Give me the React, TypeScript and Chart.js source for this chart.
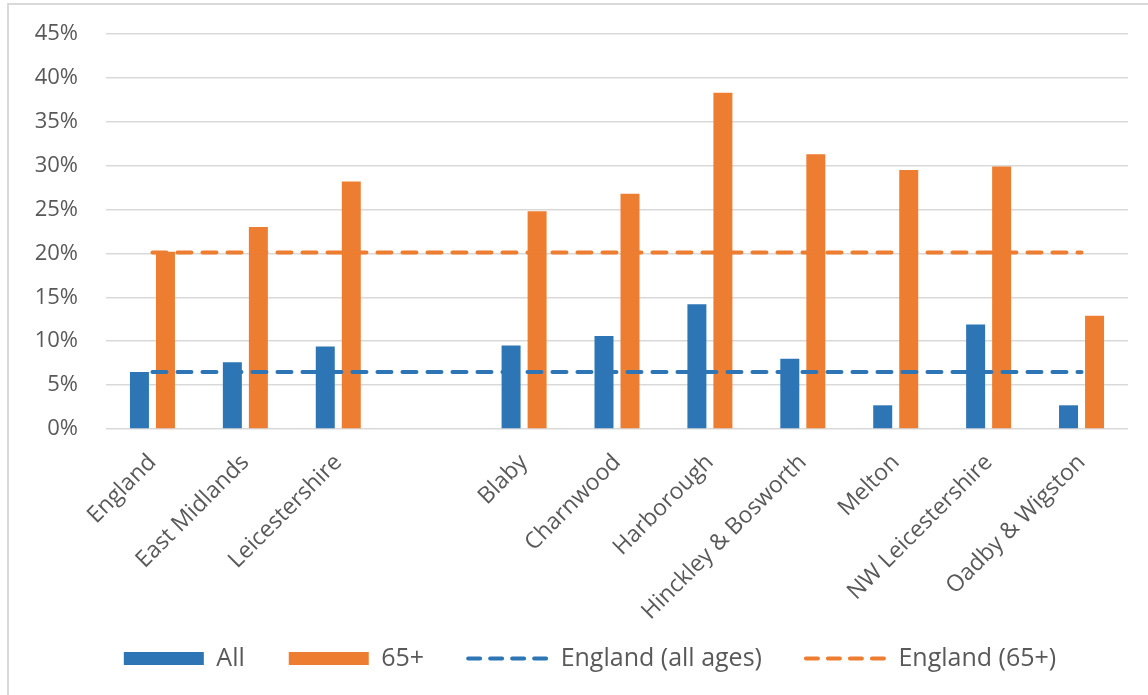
import React, { useEffect, useRef } from "react";
import { Chart, registerables } from "chart.js";

Chart.register(...registerables);

const CATEGORIES = [
  "England",
  "East Midlands",
  "Leicestershire",
  "",
  "Blaby",
  "Charnwood",
  "Harborough",
  "Hinckley & Bosworth",
  "Melton",
  "NW Leicestershire",
  "Oadby & Wigston",
];
const ALL_AGES = [6.5, 7.6, 9.4, null, 9.5, 10.6, 14.2, 8.0, 2.7, 11.9, 2.7];
const AGE_65_PLUS = [20.2, 23.0, 28.2, null, 24.8, 26.8, 38.3, 31.3, 29.5, 29.9, 12.9];
const ENGLAND_ALL_LINE = [6.5, 6.5, 6.5, 6.5, 6.5, 6.5, 6.5, 6.5, 6.5, 6.5, 6.5];
const ENGLAND_65_LINE = [20.1, 20.1, 20.1, 20.1, 20.1, 20.1, 20.1, 20.1, 20.1, 20.1, 20.1];
const Y_TICKS = [0, 5, 10, 15, 20, 25, 30, 35, 40, 45];

const BLUE = "#2E75B6";
const ORANGE = "#ED7D31";
const TEXT = "#595959";
const GRID = "#d9d9d9";
const FONT = "'Open Sans', sans-serif";

const LEGEND_PAD = 44;
const LEGEND_H = 80;
const LEGEND_FONT = 25;
const LEGEND_TOP = 658.5 - LEGEND_PAD - LEGEND_FONT / 2;
const PAD_LEFT = 52;
const AREA_LEFT = 106;
const AREA_BOTTOM = 429;
const LINE_DASH = [14, 11];

const layoutTweaksPlugin = {
  id: "layoutTweaks",
  beforeLayout(chart: any) {
    const lg = chart.legend;
    if (lg && !lg._fitPatched) {
      const orig = lg.fit.bind(lg);
      lg.fit = function () {
        orig();
        this.height = LEGEND_H;
      };
      lg._fitPatched = true;
    }
  },
  afterLayout(chart: any) {
    // let tick labels extend beyond their axis boxes (no clipping)
    Object.values(chart.scales).forEach((s: any) => {
      s._computeLabelArea = () => undefined;
    });
  },
};

export default function App() {
  const ref = useRef<HTMLCanvasElement | null>(null);

  useEffect(() => {
    if (!ref.current) return;
    Chart.defaults.font.family = FONT;
    const defaultGen = (Chart.defaults as any).plugins.legend.labels.generateLabels;
    const chart = new Chart(ref.current, {
      type: "bar",
      data: {
        labels: CATEGORIES,
        datasets: [
          {
            type: "bar",
            label: "All",
            data: ALL_AGES as any,
            backgroundColor: BLUE,
            borderWidth: 0,
            categoryPercentage: 0.56,
            barPercentage: 0.73,
            order: 1,
            pointStyle: "rect",
          } as any,
          {
            type: "bar",
            label: "65+",
            data: AGE_65_PLUS as any,
            backgroundColor: ORANGE,
            borderWidth: 0,
            categoryPercentage: 0.56,
            barPercentage: 0.73,
            order: 1,
            pointStyle: "rect",
          } as any,
          {
            type: "line",
            label: "England (all ages)",
            data: ENGLAND_ALL_LINE,
            borderColor: BLUE,
            backgroundColor: BLUE,
            borderWidth: 4,
            borderDash: LINE_DASH,
            borderCapStyle: "round",
            pointRadius: 0,
            pointHoverRadius: 0,
            pointStyle: "line",
            fill: false,
            order: 0,
          } as any,
          {
            type: "line",
            label: "England (65+)",
            data: ENGLAND_65_LINE,
            borderColor: ORANGE,
            backgroundColor: ORANGE,
            borderWidth: 4,
            borderDash: LINE_DASH,
            borderCapStyle: "round",
            pointRadius: 0,
            pointHoverRadius: 0,
            pointStyle: "line",
            fill: false,
            order: 0,
          } as any,
        ],
      },
      options: {
        responsive: false,
        animation: false,
        devicePixelRatio: 1,
        layout: {
          padding: { left: PAD_LEFT, right: 20, top: 34, bottom: 695 - LEGEND_TOP - LEGEND_H },
        },
        plugins: {
          tooltip: { enabled: false },
          legend: {
            position: "bottom",
            labels: {
              usePointStyle: true,
              pointStyleWidth: 80,
              boxHeight: 13,
              padding: LEGEND_PAD,
              color: TEXT,
              font: { size: LEGEND_FONT, family: FONT },
              sort: (a: any, b: any) => a.datasetIndex - b.datasetIndex,
              generateLabels: (c: any) => {
                const items = defaultGen(c);
                return items.map((it: any) => {
                  const ds = c.data.datasets[it.datasetIndex];
                  if (ds.type === "line") {
                    return {
                      ...it,
                      lineDash: [12, 10],
                      lineWidth: 4,
                      lineCap: "round",
                      strokeStyle: ds.borderColor,
                      fillStyle: ds.borderColor,
                      pointStyle: "line",
                    };
                  }
                  return { ...it, lineWidth: 0, pointStyle: "rect" };
                });
              },
            },
          },
        },
        scales: {
          x: {
            grid: { display: false, drawTicks: false },
            border: { display: false },
            ticks: {
              color: TEXT,
              font: { size: 23, family: FONT },
              minRotation: 45,
              maxRotation: 45,
              autoSkip: false,
              padding: 20,
            },
            afterFit: (scale: any) => {
              scale.height = LEGEND_TOP - AREA_BOTTOM;
            },
          },
          y: {
            min: 0,
            max: 45,
            afterBuildTicks: (scale: any) => {
              scale.ticks = Y_TICKS.map((v) => ({ value: v }));
            },
            grid: {
              color: GRID,
              lineWidth: 1.5,
              drawTicks: true,
              tickLength: 23,
              tickColor: "rgba(0,0,0,0)",
            },
            border: { display: false },
            ticks: {
              color: TEXT,
              font: { size: 22, family: FONT },
              padding: 5,
              callback: (v: any) => v + "%",
            },
            afterFit: (scale: any) => {
              scale.width = AREA_LEFT - PAD_LEFT;
            },
          },
        },
      },
      plugins: [layoutTweaksPlugin],
    });
    return () => chart.destroy();
  }, []);

  return (
    <div style={{ position: "fixed", left: 0, top: 0, width: 1148, height: 695, background: "#fff" }}>
      <div
        style={{
          position: "absolute",
          left: 7,
          top: 3,
          right: 0,
          bottom: 0,
          borderTop: `2px solid ${GRID}`,
          borderLeft: `2px solid ${GRID}`,
        }}
      />
      <canvas ref={ref} width={1148} height={695} style={{ position: "absolute", left: 0, top: 0 }} />
    </div>
  );
}
